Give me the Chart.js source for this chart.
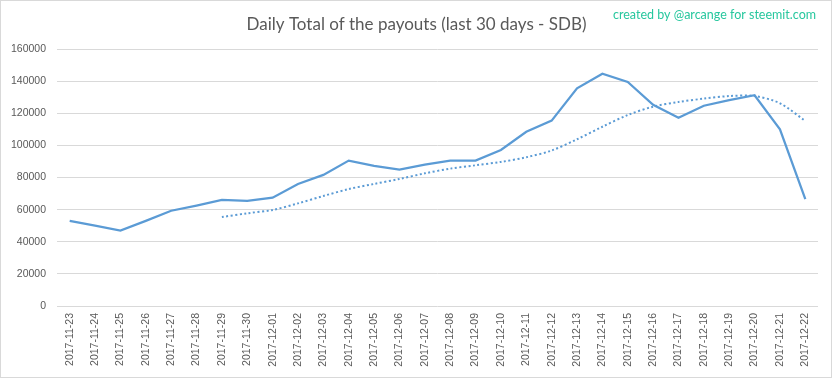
<!DOCTYPE html>
<html><head><meta charset="utf-8">
<script src="https://cdn.jsdelivr.net/npm/chart.js@4.4.0/dist/chart.umd.min.js"></script>
<style>html,body{margin:0;padding:0;background:#fff;overflow:hidden}#wrap{width:833px;height:379px;position:relative}</style>
</head><body><div id="wrap"><canvas id="c" width="833" height="379"></canvas></div>
<script>
const categories = ['2017-11-23','2017-11-24','2017-11-25','2017-11-26','2017-11-27','2017-11-28','2017-11-29','2017-11-30','2017-12-01','2017-12-02','2017-12-03','2017-12-04','2017-12-05','2017-12-06','2017-12-07','2017-12-08','2017-12-09','2017-12-10','2017-12-11','2017-12-12','2017-12-13','2017-12-14','2017-12-15','2017-12-16','2017-12-17','2017-12-18','2017-12-19','2017-12-20','2017-12-21','2017-12-22'];
const payouts = [53000, 50000, 47000, 53000, 59300, 62500, 66000, 65400, 67400, 76000, 81600, 90500, 87200, 84900, 88000, 90500, 90500, 97100, 108500, 115400, 135500, 144600, 139500, 125300, 117200, 124700, 128200, 131200, 110000, 66600];
const trend = [null, null, null, null, null, null, 55400, 57700, 59800, 63900, 68500, 72800, 76000, 79100, 82600, 85500, 87600, 89700, 92600, 96800, 103800, 111600, 118900, 124100, 127000, 129100, 130700, 130700, 126200, 115200];
const yMin = 0, yMax = 160000, yStep = 20000;
const titleText = 'Daily Total of the payouts (last 30 days - SDB)';
const creditText = 'created by @arcange for steemit.com';

const frame = {
  id: 'frame',
  beforeDraw(chart) {
    const c = chart.ctx;
    c.save(); c.fillStyle = '#ffffff'; c.fillRect(0, 0, chart.width, chart.height); c.restore();
  },
  afterDraw(chart) {
    const c = chart.ctx;
    c.save();
    c.strokeStyle = '#d9d9d9'; c.lineWidth = 1;
    c.strokeRect(0.5, 0.5, 831, 377);
    c.fillStyle = '#27c79e';
    c.font = '12.5px Lato';
    c.textAlign = 'right'; c.textBaseline = 'middle';
    c.fillText(creditText, 816, 15);
    c.restore();
  }
};

new Chart(document.getElementById('c'), {
  type: 'line',
  data: {
    labels: categories,
    datasets: [
      { label: 'Payouts', data: payouts, borderColor: '#5b9bd5', borderWidth: 2.25, pointRadius: 0, tension: 0, fill: false },
      { label: 'Trend', data: trend, borderColor: '#5b9bd5', borderWidth: 2, borderDash: [2, 2.5], pointRadius: 0, tension: 0.3, fill: false, spanGaps: false }
    ]
  },
  options: {
    responsive: false, animation: false, devicePixelRatio: 1,
    layout: { padding: { left: 0, right: 0, top: 0, bottom: 10 } },
    plugins: {
      legend: { display: false }, tooltip: { enabled: false },
      title: { display: true, text: titleText, color: '#595959', font: { family: 'Lato', size: 17, weight: 'normal', lineHeight: 1.2 }, padding: { top: 14, bottom: 14.6 } }
    },
    scales: {
      x: {
        offset: true,
        grid: { display: false, drawTicks: false },
        border: { display: false },
        ticks: { autoSkip: false, minRotation: 90, maxRotation: 90, padding: 7, color: '#595959', font: { family: 'Liberation Sans', size: 10.5 } },
        afterFit(s) { s.height = 63; }
      },
      y: {
        min: yMin, max: yMax,
        grid: { color: '#d9d9d9', lineWidth: 1, drawTicks: false },
        border: { display: false },
        ticks: { stepSize: yStep, padding: 11, color: '#595959', font: { family: 'Liberation Sans', size: 10.5 }, callback: v => String(v) },
        afterFit(s) { s.width = 57; }
      },
      yRightSpace: {
        position: 'right', min: yMin, max: yMax,
        grid: { display: false, drawTicks: false },
        border: { display: false },
        ticks: { display: false },
        afterFit(s) { s.width = 15; }
      }
    }
  },
  plugins: [frame]
});
</script></body></html>
